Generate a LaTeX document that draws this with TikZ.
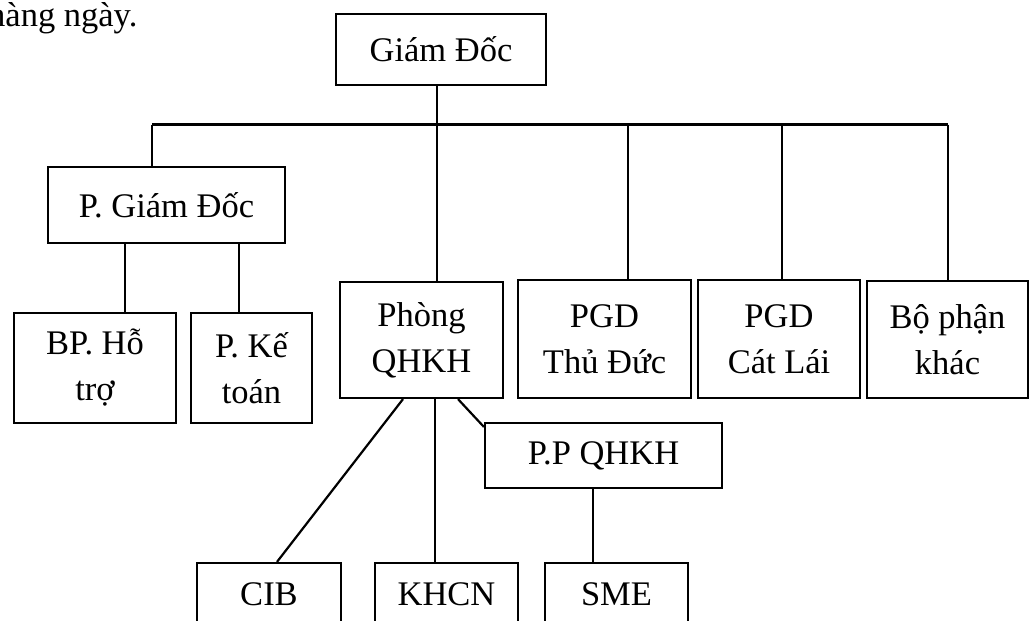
\documentclass[tikz,border=0pt]{standalone}
\usepackage{fontspec}
\setmainfont{Liberation Serif}
\usetikzlibrary{positioning}

\tikzset{
  unit/.style={draw, line width=2.2pt, align=center, inner sep=0pt, font=\fontsize{34.5}{46}\selectfont},
  link/.style={line width=2.2pt}
}

\begin{document}
\begin{tikzpicture}[x=1pt,y=-1pt]
\useasboundingbox (0,0) rectangle (1029,621);
\node [anchor=base west, inner sep=0pt, font=\fontsize{34.5}{46}\selectfont] (intro) at (-12,26) {hàng ngày.};
% top level
\node [unit, minimum width=210pt, minimum height=71pt] (gd) at (441,49.5) {Giám Đốc};
\node [unit, minimum width=237pt, minimum height=76pt] (pgd) at (166.5,205) {P. Giám Đốc};
\node [unit, minimum width=162pt, minimum height=110pt] (bp) at (95,368) {BP. Hỗ\\trợ};
\node [unit, minimum width=121pt, minimum height=110pt] (kt) at (251.5,368) {P. Kế\\toán};
\node [unit, minimum width=163pt, minimum height=116pt] (qhkh) at (421.5,340) {Phòng\\QHKH};
\node [unit, minimum width=173pt, minimum height=118pt] (td) at (604.5,339) {PGD\\Thủ Đức};
\node [unit, minimum width=162pt, minimum height=118pt] (cl) at (779,339) {PGD\\Cát Lái};
\node [unit, minimum width=161pt, minimum height=117pt] (bk) at (947.5,339.5) {Bộ phận\\khác};
\node [unit, minimum width=237pt, minimum height=65pt] (ppq) at (603.5,455.5) {P.P QHKH};
% bottom row
\node [unit, minimum width=144pt, minimum height=62pt] (cib) at (269,594) {CIB};
\node [unit, minimum width=143pt, minimum height=62pt] (khcn) at (446.5,594) {KHCN};
\node [unit, minimum width=143pt, minimum height=62pt] (sme) at (616.5,594) {SME};

% bus
\coordinate (b1) at (152,124.5);
\coordinate (b2) at (437,124.5);
\coordinate (b3) at (628,124.5);
\coordinate (b4) at (782,124.5);
\coordinate (b5) at (948,124.5);
\draw [link] (b1) -- (b5);
\draw [link] (b2 |- gd.south) -- (b2) -- (b2 |- qhkh.north);
\draw [link] (b1) -- (b1 |- pgd.north);
\draw [link] (b3) -- (b3 |- td.north);
\draw [link] (b4) -- (b4 |- cl.north);
\draw [link] (b5) -- (b5 |- bk.north);

\draw [link] ([xshift=30pt]bp.north) -- ([xshift=30pt]bp.north |- pgd.south);
\draw [link] ([xshift=-12.5pt]kt.north) -- ([xshift=-12.5pt]kt.north |- pgd.south);

\draw [link] ([xshift=-18.5pt]qhkh.south) -- ([xshift=8pt]cib.north);
\draw [link] ([xshift=-11.5pt]khcn.north) -- ([xshift=-11.5pt]khcn.north |- qhkh.south);
\draw [link] ([xshift=36.5pt]qhkh.south) -- ([yshift=-5pt]ppq.north west);
\draw [link] ([xshift=-10.5pt]ppq.south) -- ([xshift=-10.5pt]ppq.south |- sme.north);
\end{tikzpicture}
\end{document}
